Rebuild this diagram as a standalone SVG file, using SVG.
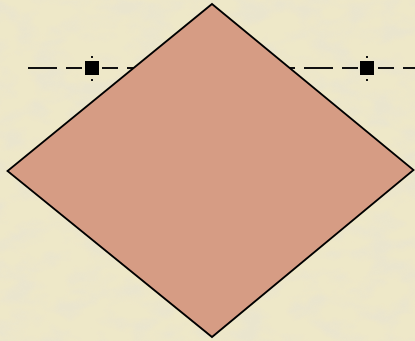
<svg xmlns="http://www.w3.org/2000/svg" width="415" height="341" viewBox="0 0 415 341">
<defs>
<style>
.axis{stroke:#111;stroke-width:2;fill:none;stroke-dasharray:29 9 16 20 16 9}
.handle{fill:#000}
.dot{fill:#111}
.shape{fill:#d69c84;stroke:#000;stroke-width:1.8;stroke-linejoin:miter}
</style>
<filter id="paper" x="0" y="0" width="100%" height="100%">
<feTurbulence type="fractalNoise" baseFrequency="0.03 0.05" numOctaves="3" seed="7" result="n"/>
<feColorMatrix in="n" type="matrix" values="0 0 0 0 0.82  0 0 0 0 0.78  0 0 0 0 0.62  0 0 0 -3 1.75" result="c"/>
<feComposite in="c" in2="SourceGraphic" operator="in"/>
</filter>
</defs>
<rect width="415" height="341" fill="#eee8c8"/>
<rect width="415" height="341" fill="#eee8c8" filter="url(#paper)" opacity="0.9"/>
<g id="connectors">
<line class="axis" x1="28" y1="68" x2="205" y2="68"/>
<line class="axis" x1="205" y1="68" x2="415" y2="68"/>
</g>
<g id="handle-left">
<rect class="handle" x="85" y="61" width="14" height="14"/>
<rect class="dot" x="91" y="56" width="2" height="2"/>
<rect class="dot" x="91" y="79" width="2" height="2"/>
</g>
<g id="handle-right">
<rect class="handle" x="360" y="61" width="14" height="14"/>
<rect class="dot" x="366" y="56" width="2" height="2"/>
<rect class="dot" x="366" y="79" width="2" height="2"/>
</g>
<g id="diamond">
<polygon class="shape" points="212,4 413.5,170 212,337 7.5,171"/>
</g>
</svg>
